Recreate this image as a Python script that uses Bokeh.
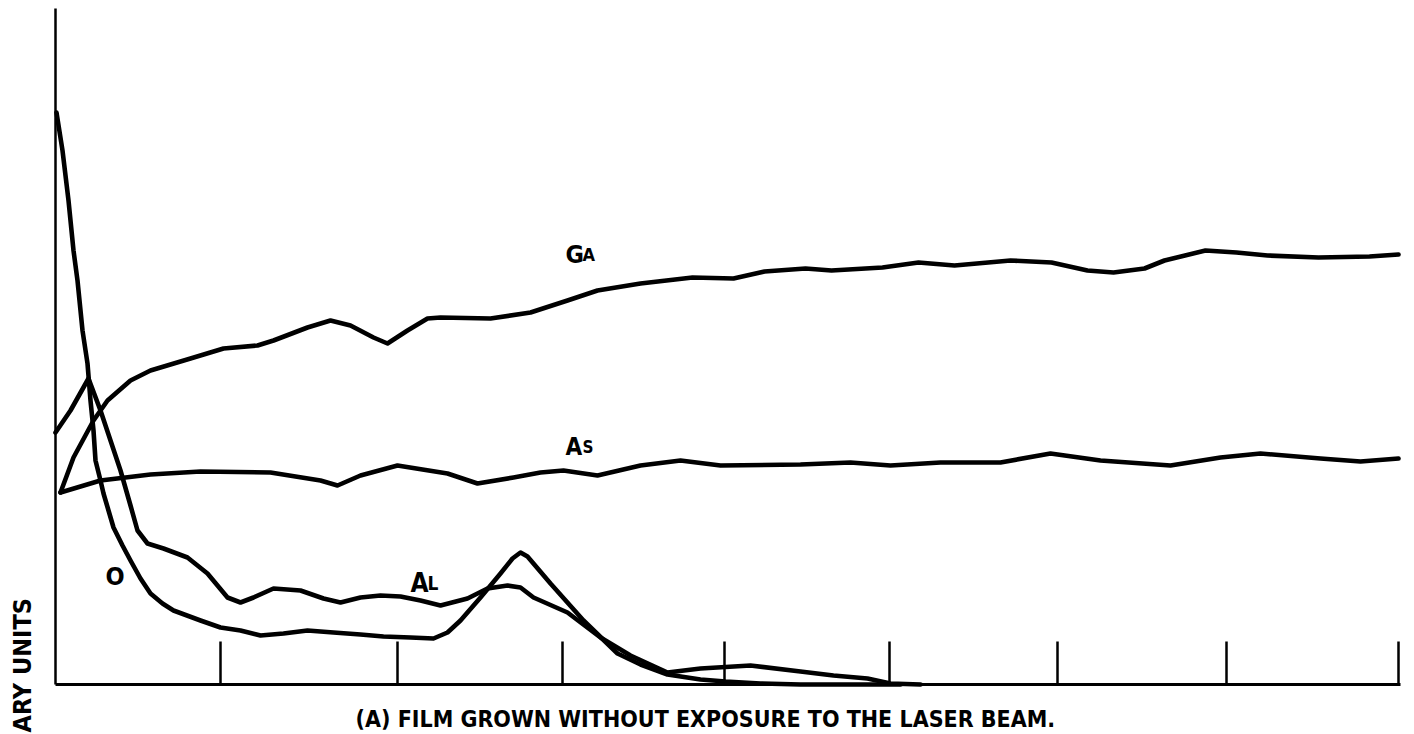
import math
from bokeh.plotting import figure
from bokeh.models import Range1d, FixedTicker, Label
from bokeh.embed import file_html
from bokeh.resources import INLINE

# ---- data (x: distance along the trace, y: intensity, arbitrary units) ----
ga_x = [5, 18, 38, 52, 75, 95, 135, 168, 202, 218, 252, 275, 295, 318, 332, 352, 372, 385,
        435, 475, 512, 542, 585, 637, 678, 709, 750, 776, 827, 863, 899, 955, 996, 1032,
        1058, 1089, 1109, 1150, 1181, 1212, 1263, 1314, 1343]
ga_y = [192, 227, 264, 284, 304, 314, 326, 336, 339, 344, 357, 364, 359, 347, 341, 354, 366, 367,
        366, 372, 384, 394, 401, 407, 406, 413, 416, 414, 417, 422, 419, 424, 422, 414,
        412, 416, 424, 434, 432, 429, 427, 428, 430]

as_x = [5, 45, 95, 145, 215, 265, 282, 305, 342, 392, 422, 458, 485, 508, 542, 585, 625, 665,
        745, 795, 835, 885, 945, 995, 1045, 1115, 1165, 1205, 1265, 1305, 1343]
as_y = [192, 204, 210, 213, 212, 204, 199, 209, 219, 211, 201, 207, 212, 214, 209, 219, 224, 219,
        220, 222, 219, 222, 222, 231, 224, 219, 227, 231, 226, 223, 226]

o_x = [1, 7, 13, 18, 22, 27, 32, 35, 38, 40, 45, 48, 53, 58, 67, 75, 85, 95, 107, 118, 145, 165,
       185, 205, 228, 252, 278, 305, 328, 355, 378, 392, 405, 425, 445, 457, 465, 472, 495, 528,
       562, 585, 612, 645, 670, 705, 745, 845]
o_y = [572, 534, 484, 434, 404, 354, 321, 284, 254, 224, 204, 191, 174, 157, 139, 124, 106, 91,
       81, 74, 64, 57, 54, 49, 51, 54, 52, 50, 48, 47, 46, 52, 64, 87, 111, 126, 132, 128, 101,
       64, 31, 20, 10, 5, 3, 1, 0, 0]

al_x = [0, 15, 33, 45, 55, 65, 75, 82, 92, 108, 132, 152, 172, 185, 198, 218, 245, 268, 285,
        305, 325, 345, 365, 385, 412, 432, 452, 465, 478, 512, 545, 575, 612, 645, 695, 745,
        778, 812, 835, 865]
al_y = [252, 274, 306, 274, 244, 214, 179, 154, 141, 136, 127, 111, 87, 82, 87, 96, 94, 86, 82,
        87, 89, 88, 84, 79, 86, 96, 99, 97, 87, 72, 47, 29, 12, 16, 19, 13, 9, 6, 1, 0]

tick_positions = [165, 342, 507, 669, 834, 1002, 1171, 1343]

caption = "(A) FILM GROWN WITHOUT EXPOSURE TO THE LASER BEAM."
ylabel = "ARY UNITS"

FONT = "DejaVu Sans Condensed"

p = figure(width=1414, height=734, output_backend="svg", toolbar_location=None,
           x_range=Range1d(-55, 1359), y_range=Range1d(-50, 684),
           min_border_left=0, min_border_right=0, min_border_top=0, min_border_bottom=0)
p.outline_line_color = None
p.xgrid.visible = False
p.ygrid.visible = False
p.background_fill_color = "white"

xa = p.xaxis[0]
xa.fixed_location = 0
xa.bounds = (0, 1345)
xa.ticker = FixedTicker(ticks=[], minor_ticks=tick_positions)
xa.major_tick_line_color = None
xa.minor_tick_in = 43
xa.minor_tick_out = 0
xa.minor_tick_line_width = 2.5
xa.minor_tick_line_color = "black"
xa.major_label_standoff = 0
xa.axis_line_width = 3
xa.axis_line_color = "black"

ya = p.yaxis[0]
ya.fixed_location = 0
ya.bounds = (0, 676)
ya.ticker = FixedTicker(ticks=[])
ya.major_tick_line_color = None
ya.minor_tick_line_color = None
ya.major_label_standoff = 0
ya.axis_line_width = 2.5
ya.axis_line_color = "black"

for xs, ys in [(ga_x, ga_y), (as_x, as_y), (o_x, o_y), (al_x, al_y)]:
    p.line(xs, ys, line_width=4.6, line_color="black", line_join="round", line_cap="round")

def lab(x, y, t, size, **kw):
    p.add_layout(Label(x=x, y=y, text=t, text_font=FONT, text_font_style="bold",
                       text_font_size=f"{size}px", text_color="black",
                       text_baseline=kw.pop("baseline", "alphabetic"),
                       text_align="left", **kw))

lab(510, 430, "G", 25)
lab(527, 430, "A", 18)
lab(510, 238, "A", 24)
lab(527, 238, "S", 17)
lab(355, 102, "A", 26)
lab(372, 102, "L", 19)
lab(50, 108, "O", 25)

lab(300, -34, caption, 23)
lab(-33, -48, ylabel, 25, angle=math.pi / 2, baseline="middle")

open("out.html", "w").write(file_html(p, INLINE))
